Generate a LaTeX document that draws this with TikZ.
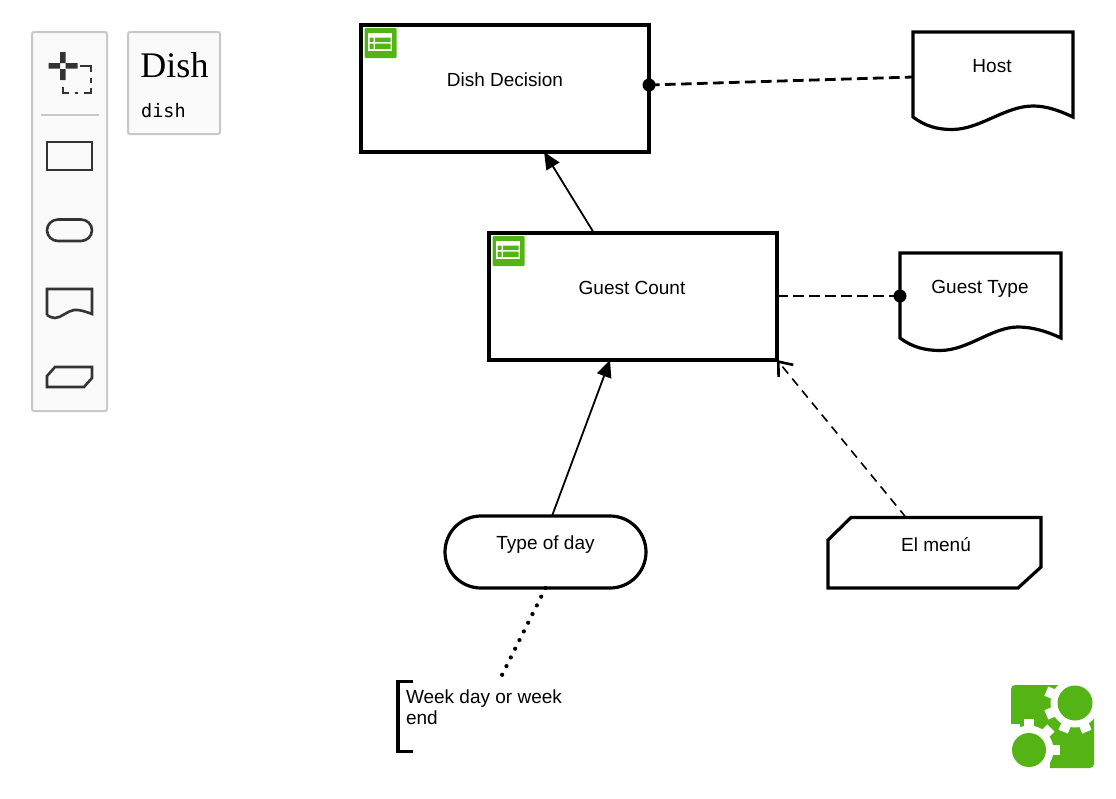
\documentclass[tikz,border=0pt]{standalone}
\usepackage{fontspec}
\setmainfont{Liberation Sans}
\newfontfamily\titlefont{Liberation Serif}
\newfontfamily\codefont{DejaVu Sans Mono}
\usetikzlibrary{arrows.meta,calc}
\definecolor{lime}{HTML}{54B415}
\definecolor{panelfill}{HTML}{FAFAFA}
\definecolor{panelline}{HTML}{C8C8C8}
\definecolor{toolink}{HTML}{333333}
\tikzset{
  x=1pt,y=-1pt,
  every node/.style={font=\fontsize{19}{21}\selectfont,outer sep=0pt,inner sep=0pt,text=black},
  shapeline/.style={draw=black,line width=3.2pt,line join=miter},
  panel/.style={draw=panelline,fill=panelfill,line width=2pt,rounded corners=2pt},
  tool/.style={draw=toolink,line width=2.6pt},
  entity/.style={shapeline,rectangle,minimum width=288pt,minimum height=127pt},
  ghost/.style={rectangle,draw=none},
  solidarrow/.style={draw=black,line width=1.8pt,-{Triangle[length=17pt,width=15pt]}},
  openarrow/.style={draw=black,line width=1.6pt,dash pattern=on 9pt off 6.5pt,-{Straight Barb[length=12pt,width=19pt,line width=2.6pt]}},
  dashlink/.style={draw=black,line width=2.8pt,dash pattern=on 10.7pt off 5.3pt},
  dotlink/.style={draw=black,line width=4.2pt,line cap=round,dash pattern=on 0pt off 9.7pt},
  enddot/.style={fill=black,circle,minimum size=13pt},
  lab/.style 2 args={label={[shift={(#1)}]center:#2}},
}
\newcommand{\tableicon}[2]{%
  \begin{scope}[shift={(#1,#2)}]
    \fill[lime,rounded corners=1pt] (0,0) rectangle (32,30);
    \fill[white] (3.5,5) rectangle (27.5,22.5);
    \fill[lime] (5,9.5) rectangle (9,14) (10.5,9.5) rectangle (26,14);
    \fill[lime] (5,15.5) rectangle (9,21) (10.5,15.5) rectangle (26,21);
  \end{scope}}
\newcommand{\whitegear}[3]{%
  \fill[white] (#1,#2) circle[radius=24.5];
  \foreach \a in {#3} {
    \fill[white,shift={(#1,#2)},rotate=\a] (20,-5) rectangle (31,5);
  }}
\begin{document}
\begin{tikzpicture}
\useasboundingbox (0,0) rectangle (1116,798);
\fill[white] (0,0) rectangle (1116,798);

% toolbar
\draw[panel] (32,32) rectangle (107,411);
\draw[panel] (128,32) rectangle (220,134);
\node[font=\titlefont\fontsize{36}{36}\selectfont,anchor=base] (title) at (174.5,77) {Dish};
\node[font=\codefont\fontsize{18.5}{20}\selectfont,anchor=base] (code) at (163.5,117) {dish};
\fill[toolink] (48.5,63) rectangle (60,68.5) (65.5,63) rectangle (77.5,68.5)
  (60,52) rectangle (65.5,63) (60,69) rectangle (65.5,80);
\draw[toolink,line width=2pt] (80,65.7) -- (91,65.7) -- (91,72)
  (91,78) -- (91,83) (91,88) -- (91,93) -- (84,93) (78,93) -- (75,93) (69,93) -- (62.5,93) -- (62.5,87);
\draw[draw=panelline,line width=1.2pt] (41,115) -- (99,115);
\draw[tool] (47,142) rectangle (92,170);
\draw[tool] (58,219.5) -- (81,219.5) .. controls (87,219.5) and (92,224.3) .. (92,230.2)
  .. controls (92,236.2) and (87,241) .. (81,241) -- (58,241)
  .. controls (52,241) and (47,236.2) .. (47,230.2)
  .. controls (47,224.3) and (52,219.5) .. (58,219.5) -- cycle;
\draw[tool] (47,315) -- (47,289) -- (92,289) -- (92,314)
  .. controls (84,311) and (79,309.5) .. (74,310)
  .. controls (67,311) and (61,318) .. (55,318)
  .. controls (52,318) and (49,316.5) .. (47,315);
\draw[tool] (47,387) -- (47,376) -- (55,367) -- (92,367) -- (92,378) -- (84,387) -- cycle;

% dish decision
\node[entity,lab={0pt,9pt}{Dish Decision}] (dish) at (505,88.5) {};
\tableicon{364.5}{28}
% guest count
\node[entity,lab={-1pt,9pt}{Guest Count}] (guest) at (633,296.5) {};
\tableicon{492.5}{236}

% host
\draw[shapeline] (913,117) -- (913,32) -- (1073,32) -- (1073,117)
  .. controls (1058,110) and (1046,106) .. (1033,106)
  .. controls (1005,106) and (980,129.5) .. (952,129.5)
  .. controls (937,129.5) and (925,126) .. (913,117) -- cycle;
\node[ghost,minimum width=160pt,minimum height=98pt,lab={-1pt,14.5pt}{Host}] (host) at (993,81) {};
% guest type
\draw[shapeline] (900,338) -- (900,253) -- (1061,253) -- (1061,338)
  .. controls (1046,331) and (1032,327) .. (1018,327)
  .. controls (992,327) and (968,350.5) .. (940,350.5)
  .. controls (925,350.5) and (912,347) .. (900,338) -- cycle;
\node[ghost,minimum width=161pt,minimum height=97pt,lab={-0.5pt,12.5pt}{Guest Type}] (gtype) at (980.5,301.5) {};

% type of day
\draw[shapeline] (481,516) -- (610,516) .. controls (629.9,516) and (646,532.1) .. (646,552)
  .. controls (646,571.9) and (629.9,588) .. (610,588) -- (481,588)
  .. controls (461.1,588) and (445,571.9) .. (445,552)
  .. controls (445,532.1) and (461.1,516) .. (481,516) -- cycle;
\node[ghost,minimum width=201pt,minimum height=72pt,lab={0pt,7pt}{Type of day}] (tday) at (545.5,552) {};
% el menu
\draw[shapeline] (828,588) -- (828,540) -- (851,517.5) -- (1041,517.5) -- (1041,567) -- (1018,588) -- cycle;
\node[ghost,minimum width=213pt,minimum height=70.5pt,lab={1.5pt,8pt}{El menú}] (menu) at (934.5,552.7) {};

% note
\draw[shapeline] (413,681.5) -- (398,681.5) -- (398,751.5) -- (413,751.5);
\node[ghost,minimum width=173pt,minimum height=71pt,
  label={[anchor=north west,align=left,shift={(9pt,-9pt)}]north west:Week day or week\\end}] (note) at (483.5,716.5) {};

% connectors
\draw[solidarrow] (guest) -- (dish);
\draw[solidarrow] ($(tday.north)+(6.5,0)$) -- ($(guest.south)+(-23,0)$);
\draw[openarrow] ($(menu.north)+(-28.5,0)$) -- (guest.south east);
\draw[dashlink] ($(dish.east)+(0,-3.5)$) -- ($(host.west)+(0,-4)$);
\draw[dashlink] ($(guest.east)+(0,-0.5)$) -- ($(gtype.west)+(0,-5.5)$);
\draw[dotlink] (tday.south) -- ($(note.north)+(17.5,-4)$);
\node[enddot] (dotA) at ($(dish.east)+(0,-3.5)$) {};
\node[enddot] (dotB) at ($(gtype.west)+(0,-5.5)$) {};

% logo
\fill[lime,rounded corners=4pt] (1011,685) rectangle (1094,768);
\whitegear{1075}{703}{157.5,202.5,247.5,292.5}
\fill[white] (1058,680) rectangle (1100,718);
\whitegear{1029}{750}{0,45,90,135}
\fill[white] (1005,732) rectangle (1050,775);
\fill[white] (1005,724) rectangle (1020,745);
\fill[lime] (1075,703) circle[radius=17.5];
\fill[lime] (1029,750) circle[radius=17];
\end{tikzpicture}
\end{document}
